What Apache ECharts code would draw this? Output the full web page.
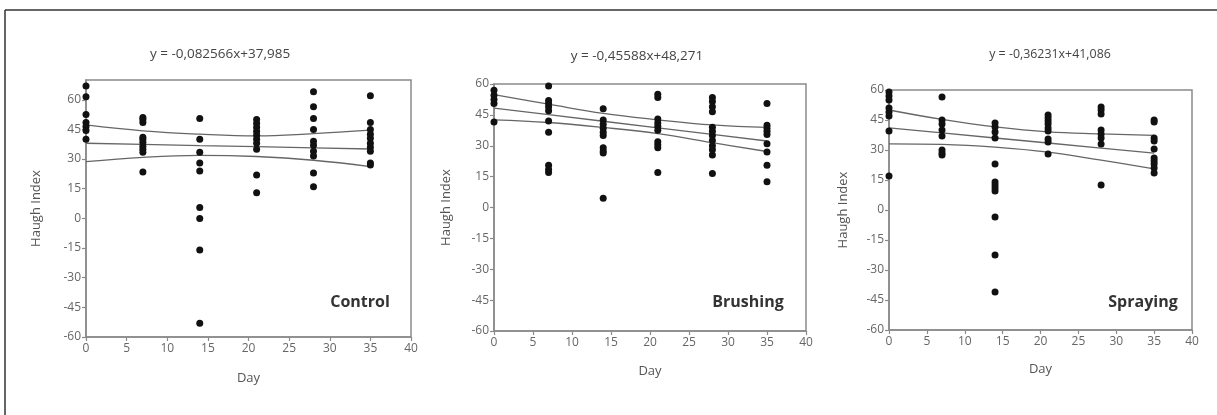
<!DOCTYPE html>
<html>
<head>
<meta charset="utf-8">
<script src="https://cdn.jsdelivr.net/npm/echarts@6/dist/echarts.min.js"></script>
<style>
html,body{margin:0;padding:0;background:#fff;}
#chart{width:1217px;height:415px;}
</style>
</head>
<body>
<div id="chart"></div>
<script>
// ---- data ----
const days = [0, 7, 14, 21, 28, 35];
const yTicks = [-60, -45, -30, -15, 0, 15, 30, 45, 60];
const xTicks = [0, 5, 10, 15, 20, 25, 30, 35, 40];

const panelNames = ['Control', 'Brushing', 'Spraying'];
const equations = ['y = -0,082566x+37,985', 'y = -0,45588x+48,271', 'y = -0,36231x+41,086'];

const controlValues = [
  [67, 61.5, 52.5, 48.5, 46.5, 44.5, 40],
  [51, 50, 48.5, 41, 40, 38.5, 36.5, 35, 33.5, 23.5],
  [50.5, 40, 33.5, 28, 24, 5.5, 0, -16, -53],
  [50, 48, 46, 44, 42, 40, 38, 35, 22, 13],
  [64, 56.5, 50.5, 45, 39, 37, 34, 31.5, 23, 16],
  [62, 48.5, 45, 42.5, 40.5, 38, 36, 34, 28, 27]
];
const brushingValues = [
  [57, 54.5, 52.5, 50.5, 41.5],
  [59, 52, 50.5, 49, 47, 42, 36.5, 20.5, 18.5, 17],
  [48, 42.5, 40.5, 38.5, 36.5, 35, 29, 27.5, 26.5, 4.5],
  [55, 53.5, 43, 41, 39.5, 37.5, 32, 30.5, 29, 17],
  [53.5, 51.5, 49, 46.5, 39, 37, 35, 32.5, 30, 28, 25.5, 16.5],
  [50.5, 40, 38.5, 37, 35.5, 31, 27, 20.5, 12.5]
];
const sprayingValues = [
  [59, 57, 55, 51, 49, 47, 39.5, 17],
  [56.5, 45, 43, 40, 37, 30, 28.5, 27.5],
  [43.5, 41.5, 39, 36, 23, 14, 12.5, 11, 9.5, -3.5, -22.5, -41],
  [47.5, 46, 44.5, 43, 41, 39.5, 35.5, 34, 28],
  [51.5, 50, 48, 40, 38, 36, 33, 12.5],
  [45, 44, 36, 34.5, 30.5, 26, 24.5, 23, 21, 18.5]
];

// fitted line and confidence band, read at each day
const controlFit   = [38.0, 37.4, 36.8, 36.3, 35.7, 35.1];
const controlUpper = [47.3, 44.3, 42.6, 41.7, 42.9, 44.6];
const controlLower = [28.7, 30.9, 31.9, 31.3, 29.4, 26.2];
const brushingFit   = [48.3, 45.1, 41.9, 38.7, 35.5, 32.3];
const brushingUpper = [54.8, 50.2, 45.7, 42.6, 40.1, 38.9];
const brushingLower = [42.6, 41.3, 38.9, 35.9, 31.5, 27.2];
const sprayingFit   = [41.1, 38.6, 36.0, 33.5, 30.9, 28.4];
const sprayingUpper = [50.0, 45.3, 41.6, 39.1, 38.1, 37.3];
const sprayingLower = [33.1, 32.8, 31.4, 28.9, 24.9, 20.6];

// ---- layout ----
const panels = [
  {values: controlValues, fit: controlFit, up: controlUpper, lo: controlLower,
   grid: {left: 86, top: 80, width: 325, height: 257}, yMax: 70,
   titleX: 215, titleY: 42, titleSize: 13.5, yNameGap: 43, xNameGap: 35,
   labelX: 360, labelY: 302},
  {values: brushingValues, fit: brushingFit, up: brushingUpper, lo: brushingLower,
   grid: {left: 494, top: 84, width: 312, height: 247}, yMax: 60,
   titleX: 632, titleY: 44, titleSize: 13.5, yNameGap: 41, xNameGap: 34,
   labelX: 748, labelY: 302},
  {values: sprayingValues, fit: sprayingFit, up: sprayingUpper, lo: sprayingLower,
   grid: {left: 889, top: 90, width: 303, height: 240}, yMax: 60,
   titleX: 1045, titleY: 43, titleSize: 12.4, yNameGap: 39, xNameGap: 33,
   labelX: 1143, labelY: 302}
];

const axisColor = '#8a8a8a';
const textColor = '#555';
const FONT = '"Open Sans", "Noto Sans", sans-serif';

const grids = [], xAxes = [], yAxes = [], series = [], titles = [], graphics = [];

panels.forEach((p, i) => {
  grids.push(Object.assign({show: true, borderColor: axisColor, borderWidth: 1.5, backgroundColor: '#fff'}, p.grid));
  xAxes.push({
    type: 'value', gridIndex: i, min: 0, max: 40, interval: 5,
    name: 'Day', nameLocation: 'middle', nameGap: p.xNameGap,
    nameTextStyle: {color: textColor, fontSize: 13, fontFamily: FONT},
    axisLine: {show: true, onZero: false, lineStyle: {color: axisColor, width: 1.5}},
    axisTick: {show: true, inside: false, length: 4, lineStyle: {color: axisColor, width: 1.2}},
    axisLabel: {color: '#666', fontSize: 12, fontFamily: FONT, margin: 6},
    splitLine: {show: false}
  });
  yAxes.push({
    type: 'value', gridIndex: i, min: -60, max: p.yMax, interval: 15,
    name: 'Haugh Index', nameLocation: 'middle', nameGap: p.yNameGap, nameRotate: 90,
    nameTextStyle: {color: textColor, fontSize: 13, fontFamily: FONT},
    axisLine: {show: true, onZero: false, lineStyle: {color: axisColor, width: 1.5}},
    axisTick: {show: true, length: 4, customValues: yTicks, lineStyle: {color: axisColor, width: 1.2}},
    axisLabel: {color: '#666', fontSize: 12, fontFamily: FONT, margin: 5, customValues: yTicks},
    splitLine: {show: false}
  });
  const pts = [];
  p.values.forEach((vals, d) => vals.forEach(v => pts.push([days[d], v])));
  series.push({
    type: 'scatter', xAxisIndex: i, yAxisIndex: i, data: pts,
    symbolSize: 7, itemStyle: {color: '#111', opacity: 1}, z: 3
  });
  const lineStyle = {color: '#666', width: 1.3};
  [p.up, p.fit, p.lo].forEach((arr, k) => {
    series.push({
      type: 'line', xAxisIndex: i, yAxisIndex: i,
      data: arr.map((v, d) => [days[d], v]),
      smooth: k === 1 ? false : 0.4, showSymbol: false, symbol: 'none',
      lineStyle: lineStyle, z: 2, silent: true
    });
  });
  titles.push({
    text: equations[i], left: p.titleX, top: p.titleY, textAlign: 'center',
    textStyle: {color: '#444', fontSize: p.titleSize, fontWeight: 'normal', fontFamily: FONT}
  });
  graphics.push({
    type: 'text', x: p.labelX, y: p.labelY, z: 10,
    style: {text: panelNames[i], fill: '#333', font: 'bold 16px ' + FONT, textAlign: 'center', textVerticalAlign: 'middle'}
  });
});

// outer frame (top and left edges)
graphics.push({type: 'line', shape: {x1: 5, y1: 10, x2: 1217, y2: 10}, style: {stroke: '#333', lineWidth: 1.5}});
graphics.push({type: 'line', shape: {x1: 5, y1: 10, x2: 5, y2: 415}, style: {stroke: '#333', lineWidth: 1.5}});

const chart = echarts.init(document.getElementById('chart'), null, {renderer: 'canvas'});
chart.setOption({
  animation: false,
  backgroundColor: '#fff',
  title: titles,
  grid: grids,
  xAxis: xAxes,
  yAxis: yAxes,
  series: series,
  graphic: graphics
});
</script>
</body>
</html>
